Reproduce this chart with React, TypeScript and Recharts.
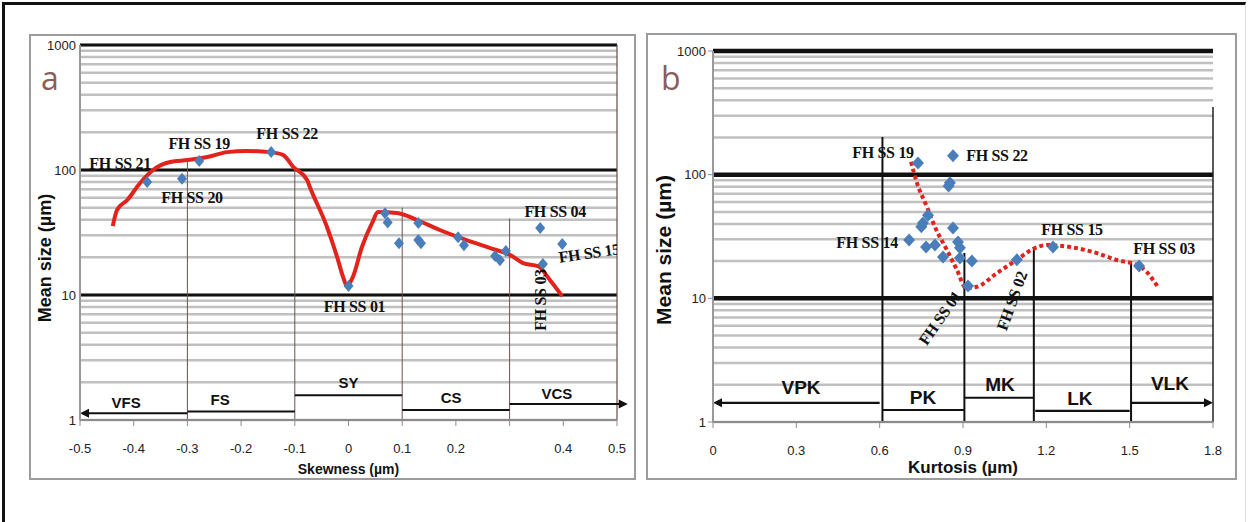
import {
  ComposedChart,
  Scatter,
  Line,
  XAxis,
  YAxis,
  CartesianGrid,
  ReferenceLine,
} from 'recharts'

const sans = '"Liberation Sans", Arial, sans-serif'
const narrow = '"Liberation Sans Narrow", "Liberation Sans", Arial, sans-serif'
const serif = '"Liberation Serif", "Times New Roman", serif'

// log grid shared by both panels
const sizeGrid = [1, 2, 3, 4, 5, 6, 7, 8, 9, 10, 20, 30, 40, 50, 60, 70, 80, 90, 100, 200, 300, 400, 500, 600, 700, 800, 900, 1000]
const decadeGrid = [10, 100, 1000]
const sizeTicks = [1, 10, 100, 1000]

// (a) skewness vs mean size
const skewTicks = [-0.5, -0.4, -0.3, -0.2, -0.1, 0, 0.1, 0.2, 0.3, 0.4, 0.5]
const skewTickText = ['-0.5', '-0.4', '-0.3', '-0.2', '-0.1', '0', '0.1', '0.2', '', '0.4', '0.5']
const skewSampleX = [-0.375, -0.31, -0.278, -0.144, 0, 0.068, 0.073, 0.094, 0.13, 0.135, 0.13, 0.204, 0.215, 0.273, 0.282, 0.293, 0.357, 0.398, 0.362]
const skewSampleMz = [80, 85, 118, 139, 11.8, 45, 38, 26, 37.7, 26, 27.5, 29, 25, 20.5, 19, 22.5, 34.4, 25.6, 17.7]
const skewTrendX = [-0.439, -0.431, -0.412, -0.388, -0.364, -0.332, -0.299, -0.263, -0.226, -0.189, -0.146, -0.122, -0.103, -0.077, -0.072, -0.04, -0.021, -0.01, -0.003, 0.008, 0.025, 0.044, 0.055, 0.09, 0.128, 0.17, 0.22, 0.263, 0.301, 0.325, 0.353, 0.375, 0.398]
const skewTrendMz = [35.6, 47.9, 57.5, 78.7, 100, 116, 120, 127, 139, 142, 139, 132, 106, 83, 73, 35, 20, 13.9, 11.8, 13.9, 24.2, 37.7, 46.1, 45.3, 39.8, 33.1, 27.5, 23.8, 20.9, 18, 17, 13.2, 9.8]
const skewTags = ['FH SS 21', 'FH SS 20', 'FH SS 19', 'FH SS 22', 'FH SS 01', 'FH SS 04', 'FH SS 15', 'FH SS 03']
const skewTagIdx = [0, 1, 2, 3, 4, 16, 17, 18]
const skewBounds = [-0.3, -0.1, 0.1, 0.3]
const skewBoundTop = [125, 104, 50, 41]
const skewClasses = ['VFS', 'FS', 'SY', 'CS', 'VCS']
const skewClassFrom = [-0.5, -0.3, -0.1, 0.1, 0.3]
const skewClassTo = [-0.3, -0.1, 0.1, 0.3, 0.52]
const skewClassMz = [1.13, 1.17, 1.58, 1.2, 1.34]
const skewClassLabelX = [-0.414, -0.239, 0, 0.191, 0.388]
const skewClassLabelMz = [1.39, 1.45, 1.98, 1.5, 1.64]

// (b) kurtosis vs mean size
const kurtTicks = [0, 0.3, 0.6, 0.9, 1.2, 1.5, 1.8]
const kurtTickText = ['0', '0.3', '0.6', '0.9', '1.2', '1.5', '1.8']
const kurtSampleX = [0.738, 0.864, 0.853, 0.756, 0.774, 0.864, 0.706, 0.767, 0.799, 0.882, 0.889, 0.828, 0.889, 0.932, 0.918, 1.094, 1.224, 1.534, 0.75, 0.848]
const kurtSampleMz = [124, 142, 86, 40.6, 47, 37, 29.6, 26, 27, 28.6, 25.7, 21.6, 21.2, 20, 12.6, 20.5, 26, 18.3, 38, 81]
const kurtTrendX = [0.713, 0.734, 0.77, 0.799, 0.842, 0.878, 0.911, 0.95, 1.022, 1.094, 1.159, 1.202, 1.285, 1.368, 1.454, 1.526, 1.56, 1.585, 1.605]
const kurtTrendMz = [127, 86, 55, 37.8, 24.6, 17, 12.1, 12.4, 16, 20.5, 25.5, 27, 26, 23.7, 20.4, 18.6, 16.5, 14, 12]
const kurtTags = ['FH SS 19', 'FH SS 22', 'FH SS 14', 'FH SS 01', 'FH SS 02', 'FH SS 15', 'FH SS 03']
const kurtTagIdx = [0, 1, 6, 14, 15, 16, 17]
const kurtBounds = [0.61, 0.905, 1.155, 1.505]
const kurtBoundTop = [202, 23.3, 26, 19.3]
const kurtClasses = ['VPK', 'PK', 'MK', 'LK', 'VLK']
const kurtClassFrom = [0, 0.61, 0.905, 1.16, 1.505]
const kurtClassTo = [0.6, 0.905, 1.155, 1.5, 1.8]
const kurtClassMz = [1.43, 1.25, 1.57, 1.23, 1.43]
const kurtClassLabelX = [0.317, 0.756, 1.033, 1.321, 1.645]
const kurtClassLabelMz = [1.89, 1.57, 2.0, 1.54, 2.03]

type Place = { dx: number; dy: number; rot?: number }
type ArrowEnd = 'left' | 'right' | 'none'

// where each sample name sits relative to its diamond
const skewTagPlace: Place[] = [
  { dx: -27, dy: -19 },
  { dx: 10, dy: 19 },
  { dx: 0, dy: -18 },
  { dx: 16, dy: -19 },
  { dx: 6, dy: 20 },
  { dx: 15, dy: -16 },
  { dx: 27, dy: 9, rot: -8 },
  { dx: -2, dy: 36, rot: -90 },
]
const kurtTagPlace: Place[] = [
  { dx: -35, dy: -11 },
  { dx: 44, dy: 0 },
  { dx: -42, dy: 2 },
  { dx: -28, dy: 32, rot: -55 },
  { dx: -5, dy: 41, rot: -70 },
  { dx: 19, dy: -18 },
  { dx: 25, dy: -17 },
]
const classEnds: ArrowEnd[] = ['left', 'none', 'none', 'none', 'right']

const diamond = (hw: number, hh: number) => (p: any) => (
  <polygon
    points={`${p.cx},${p.cy - hh} ${p.cx + hw},${p.cy} ${p.cx},${p.cy + hh} ${p.cx - hw},${p.cy}`}
    fill="#4a7ebb"
  />
)

const tagShape = (place: Place[]) => (p: any) => {
  const s = place[p.payload.k]
  const x = p.cx + s.dx
  const y = p.cy + s.dy
  return (
    <text
      x={x}
      y={y}
      transform={s.rot ? `rotate(${s.rot} ${x} ${y})` : undefined}
      textAnchor="middle"
      dominantBaseline="central"
      fontFamily={serif}
      fontWeight={700}
      fontSize={16}
      letterSpacing={-0.3}
      fill="#111"
    >
      {p.payload.tag}
    </text>
  )
}

const classShape = (size: number) => (p: any) => (
  <text
    x={p.cx}
    y={p.cy}
    textAnchor="middle"
    dominantBaseline="central"
    fontFamily={sans}
    fontWeight={700}
    fontSize={size}
    fill="#111"
  >
    {p.payload.tag}
  </text>
)

const barShape = (end: ArrowEnd, width: number) => (p: any) => {
  const x1 = Math.min(p.x1, p.x2)
  const x2 = Math.max(p.x1, p.x2)
  const y = p.y1
  const head = 9
  return (
    <g>
      <line
        x1={end === 'left' ? x1 + head - 1 : x1}
        y1={y}
        x2={end === 'right' ? x2 - head + 1 : x2}
        y2={y}
        stroke="#111"
        strokeWidth={width}
      />
      {end === 'left' && <polygon points={`${x1},${y} ${x1 + head},${y - 4.5} ${x1 + head},${y + 4.5}`} fill="#111" />}
      {end === 'right' && <polygon points={`${x2},${y} ${x2 - head},${y - 4.5} ${x2 - head},${y + 4.5}`} fill="#111" />}
    </g>
  )
}

// only the decades carry a label (and a small tick)
const sizeTick = (font: string, tickLen: number) => (t: any) => {
  const v = t.payload.value
  if (!sizeTicks.includes(v)) return <g />
  return (
    <g>
      {tickLen > 0 && <line x1={t.x + 2} x2={t.x + 2 + tickLen} y1={t.y} y2={t.y} stroke="#8c8c8c" />}
      <text x={t.x} y={t.y} textAnchor="end" dominantBaseline="central" fontSize={13} fontFamily={font} fill="#222">
        {v}
      </text>
    </g>
  )
}

const sideTitle = (x: number, y: number, size: number) => () => (
  <text
    x={x}
    y={y}
    transform={`rotate(-90 ${x} ${y})`}
    textAnchor="middle"
    dominantBaseline="central"
    fontFamily={sans}
    fontWeight={700}
    fontSize={size}
    fill="#111"
  >
    Mean size (µm)
  </text>
)

interface PanelProps {
  width: number
  height: number
  margin: { top: number; right: number; bottom: number; left: number }
  domain: [number, number]
  ticks: number[]
  tickText: string[]
  tickFont: string
  yTickSize: number
  xTitle: string
  xTitleSize: number
  xTitleOffset: number
  yTitle: [number, number, number]
  sampleX: number[]
  sampleMz: number[]
  trendX: number[]
  trendMz: number[]
  trendDash?: string
  trendOnTop: boolean
  tags: string[]
  tagIdx: number[]
  tagPlace: Place[]
  bounds: number[]
  boundTop: number[]
  boundStroke: string
  boundWidth: number
  classes: string[]
  classFrom: number[]
  classTo: number[]
  classMz: number[]
  classLabelX: number[]
  classLabelMz: number[]
  classFont: number
  classWidth: number
  decadeWidth: number
  dia: [number, number]
  edge: { x: number; top: number; stroke: string; width: number }
}

function SizePanel(p: PanelProps) {
  const samples = p.sampleX.map((x, i) => ({ x, mz: p.sampleMz[i] }))
  const trend = p.trendX.map((x, i) => ({ x, mz: p.trendMz[i] }))
  const tagData = p.tagIdx.map((i, k) => ({ x: p.sampleX[i], mz: p.sampleMz[i], tag: p.tags[k], k }))
  const classData = p.classes.map((c, k) => ({ x: p.classLabelX[k], mz: p.classLabelMz[k], tag: c }))

  const trendLine = (
    <Line
      data={trend}
      dataKey="mz"
      type="monotone"
      stroke="#e2231c"
      strokeWidth={4}
      strokeDasharray={p.trendDash}
      dot={false}
      activeDot={false}
      isAnimationActive={false}
    />
  )
  const points = <Scatter data={samples} dataKey="mz" shape={diamond(p.dia[0], p.dia[1])} isAnimationActive={false} />

  return (
    <ComposedChart width={p.width} height={p.height} margin={p.margin}>
      <CartesianGrid vertical={false} stroke="#c0c0c0" strokeWidth={2.5} />
      <CartesianGrid vertical={false} horizontalValues={decadeGrid} stroke="#111" strokeWidth={p.decadeWidth} />
      <XAxis
        type="number"
        dataKey="x"
        domain={p.domain}
        ticks={p.ticks}
        tickFormatter={(_v: number, i: number) => p.tickText[i]}
        allowDataOverflow
        height={60}
        tickSize={6}
        tickMargin={18}
        axisLine={{ stroke: '#8c8c8c', strokeWidth: 2 }}
        tickLine={{ stroke: '#8c8c8c' }}
        tick={{ fontSize: 13, fill: '#222', fontFamily: p.tickFont }}
        label={{
          value: p.xTitle,
          position: 'insideBottom',
          offset: p.xTitleOffset,
          style: { fontSize: p.xTitleSize, fontWeight: 700, fill: '#111', fontFamily: sans },
        }}
      />
      <YAxis
        type="number"
        dataKey="mz"
        scale="log"
        domain={[1, 1000]}
        ticks={sizeGrid}
        interval={0}
        allowDataOverflow
        width={50}
        tickSize={p.yTickSize}
        tickMargin={2}
        axisLine={{ stroke: '#9a9a9a', strokeWidth: 2 }}
        tickLine={false}
        tick={sizeTick(p.tickFont, p.yTickSize > 3 ? p.yTickSize : 0)}
        label={sideTitle(p.yTitle[0], p.yTitle[1], p.yTitle[2])}
      />
      {p.bounds.map((b, i) => (
        <ReferenceLine
          key={`b${i}`}
          segment={[{ x: b, y: p.boundTop[i] }, { x: b, y: 1 }]}
          stroke={p.boundStroke}
          strokeWidth={p.boundWidth}
          ifOverflow="visible"
        />
      ))}
      <ReferenceLine
        segment={[{ x: p.edge.x, y: p.edge.top }, { x: p.edge.x, y: 1 }]}
        stroke={p.edge.stroke}
        strokeWidth={p.edge.width}
        ifOverflow="visible"
      />
      {p.classes.map((c, i) => (
        <ReferenceLine
          key={c}
          segment={[{ x: p.classFrom[i], y: p.classMz[i] }, { x: p.classTo[i], y: p.classMz[i] }]}
          shape={barShape(classEnds[i], p.classWidth)}
          ifOverflow="visible"
        />
      ))}
      {p.trendOnTop ? points : trendLine}
      {p.trendOnTop ? trendLine : points}
      <Scatter data={tagData} dataKey="mz" shape={tagShape(p.tagPlace)} isAnimationActive={false} />
      <Scatter data={classData} dataKey="mz" shape={classShape(p.classFont)} isAnimationActive={false} />
    </ComposedChart>
  )
}

const letter = (left: number, top: number): React.CSSProperties => ({
  position: 'absolute',
  left,
  top,
  fontFamily: '"Open Sans", "Liberation Sans", sans-serif',
  fontSize: 32,
  lineHeight: '32px',
  color: '#8a5c5c',
})

export default function App() {
  return (
    <div style={{ position: 'absolute', left: 0, top: 0, width: 1248, height: 522, background: '#fff', overflow: 'hidden' }}>
      <div
        style={{
          position: 'absolute',
          left: 2,
          top: 2,
          width: 1240,
          height: 560,
          borderTop: '3px solid #111',
          borderLeft: '3px solid #111',
          borderRight: '1px solid #ddd',
        }}
      />
      <div style={{ position: 'absolute', left: 29, top: 34, width: 603, height: 442, border: '2px solid #9c9c9c' }} />
      <div style={{ position: 'absolute', left: 646, top: 33, width: 587, height: 443, border: '2px solid #9c9c9c' }} />

      <div style={{ position: 'absolute', left: 0, top: 0 }}>
        <SizePanel
          width={640}
          height={490}
          margin={{ top: 45, right: 23, bottom: 10, left: 30 }}
          domain={[-0.5, 0.5]}
          ticks={skewTicks}
          tickText={skewTickText}
          tickFont={narrow}
          yTickSize={2}
          xTitle="Skewness (µm)"
          xTitleSize={14}
          xTitleOffset={6}
          yTitle={[45, 258, 18]}
          sampleX={skewSampleX}
          sampleMz={skewSampleMz}
          trendX={skewTrendX}
          trendMz={skewTrendMz}
          trendOnTop={false}
          tags={skewTags}
          tagIdx={skewTagIdx}
          tagPlace={skewTagPlace}
          bounds={skewBounds}
          boundTop={skewBoundTop}
          boundStroke="#6a5252"
          boundWidth={1}
          classes={skewClasses}
          classFrom={skewClassFrom}
          classTo={skewClassTo}
          classMz={skewClassMz}
          classLabelX={skewClassLabelX}
          classLabelMz={skewClassLabelMz}
          classFont={15}
          classWidth={2}
          decadeWidth={3}
          dia={[5, 6]}
          edge={{ x: 0.5, top: 1000, stroke: '#6a4a4a', width: 1.2 }}
        />
      </div>

      <div style={{ position: 'absolute', left: 640, top: 0 }}>
        <SizePanel
          width={608}
          height={490}
          margin={{ top: 51, right: 35, bottom: 8, left: 23 }}
          domain={[0, 1.8]}
          ticks={kurtTicks}
          tickText={kurtTickText}
          tickFont={sans}
          yTickSize={5}
          xTitle="Kurtosis (µm)"
          xTitleSize={17}
          xTitleOffset={9}
          yTitle={[23, 250, 21]}
          sampleX={kurtSampleX}
          sampleMz={kurtSampleMz}
          trendX={kurtTrendX}
          trendMz={kurtTrendMz}
          trendDash="4 3"
          trendOnTop={true}
          tags={kurtTags}
          tagIdx={kurtTagIdx}
          tagPlace={kurtTagPlace}
          bounds={kurtBounds}
          boundTop={kurtBoundTop}
          boundStroke="#111"
          boundWidth={2}
          classes={kurtClasses}
          classFrom={kurtClassFrom}
          classTo={kurtClassTo}
          classMz={kurtClassMz}
          classLabelX={kurtClassLabelX}
          classLabelMz={kurtClassLabelMz}
          classFont={19}
          classWidth={2.2}
          decadeWidth={4.5}
          dia={[6, 6.5]}
          edge={{ x: 1.8, top: 352, stroke: '#222', width: 1.5 }}
        />
      </div>

      <div style={letter(41, 62)}>a</div>
      <div style={letter(661, 62)}>b</div>
    </div>
  )
}
